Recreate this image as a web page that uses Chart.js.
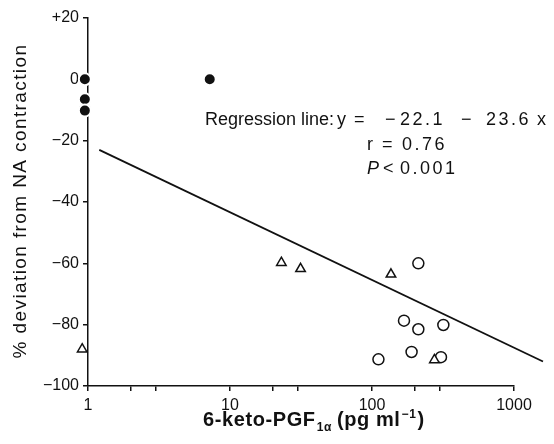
<!DOCTYPE html>
<html>
<head>
<meta charset="utf-8">
<script src="https://cdn.jsdelivr.net/npm/chart.js@4.4.1/dist/chart.umd.min.js"></script>
<style>
  html, body { margin: 0; padding: 0; background: #fff; }
  #wrap { width: 554px; height: 444px; }
</style>
</head>
<body>
<div id="wrap"><canvas id="chart" width="554" height="444"></canvas></div>
<script>
// filled circles (controls); listed unsorted so Chart.js draws all of them
const controlX = [7.2, 0.95, 0.95, 0.95];
const controlY = [0, 0, -6.5, -10.2];
// open circles
const circleX = [212, 168, 212, 318, 1750, 111, 190, 306, 1730];
const circleY = [-60, -78.7, -81.5, -80.1, -81.7, -91.3, -88.9, -90.6, -93.9];
// open triangles
const triangleX = [23, 0.91, 31.4, 136, 275];
const triangleY = [-59.8, -88, -61.8, -63.6, -91.5];
// regression line end points
const regressionX = [1.2, 1600];
const regressionY = [-23, -92];

const xTicks = [1, 2, 3, 10, 20, 30, 100, 200, 300, 1000];
const xTickLabels = ["1", "10", "100", "1000"];
const yTicks = [20, 0, -20, -40, -60, -80, -100];

const ink = "#111";
const fontFamily = "'Liberation Sans', Arial, Helvetica, sans-serif";

const zip = (xs, ys) => xs.map((x, i) => ({ x, y: ys[i] }));

const formatY = (v) => (v > 0 ? "+" + v : v < 0 ? "\u2212" + Math.abs(v) : "0");

// titles and the regression note are drawn by hand (sub/superscripts, italics)
const textPlugin = {
  id: "figureText",
  afterDraw(chart) {
    const ctx = chart.ctx;
    ctx.save();
    ctx.fillStyle = ink;

    // y title
    ctx.save();
    ctx.translate(21, 201);
    ctx.rotate(-Math.PI / 2);
    ctx.font = `19px ${fontFamily}`;
    ctx.letterSpacing = "1.4px";
    ctx.textAlign = "center";
    ctx.textBaseline = "middle";
    ctx.fillText("% deviation from NA contraction", 0, 0);
    ctx.restore();

    // x title with subscript / superscript
    ctx.textBaseline = "alphabetic";
    ctx.textAlign = "left";
    ctx.letterSpacing = "0.6px";
    const big = `bold 20px ${fontFamily}`;
    const small = `bold 12px ${fontFamily}`;
    let x = 203;
    const base = 426;
    const parts = [
      ["6-keto-PGF", big, 0, 1],
      ["1\u03b1", small, 5, 5],
      ["(pg ml", big, 0, 1],
      ["\u22121", small, -8, 1],
      [")", big, 0, 0],
    ];
    parts.forEach(([t, f, dy, gap]) => {
      ctx.font = f;
      ctx.fillText(t, x, base + dy);
      x += ctx.measureText(t).width + gap;
    });

    // regression note
    const note = `18px ${fontFamily}`;
    const noteItalic = `italic 18px ${fontFamily}`;
    const segments = [
      ["Regression line:", 205, 125, note, 0],
      ["y", 337, 125, note, 0],
      ["=", 354, 125, note, 0],
      ["\u2212", 385, 125, note, 0],
      ["22.1", 400, 125, note, 2.5],
      ["\u2212", 461, 125, note, 0],
      ["23.6", 486, 125, note, 2.5],
      ["x", 537, 125, note, 0],
      ["r", 367, 150, note, 0],
      ["=", 382, 150, note, 0],
      ["0.76", 402, 150, note, 2.5],
      ["P", 367, 174, noteItalic, 0],
      ["<", 383, 174, note, 0],
      ["0.001", 400, 174, note, 2.5],
    ];
    segments.forEach(([t, sx, sy, f, ls]) => {
      ctx.font = f;
      ctx.letterSpacing = ls + "px";
      ctx.fillText(t, sx, sy);
    });
    ctx.restore();
  },
};

new Chart(document.getElementById("chart"), {
  type: "scatter",
  data: {
    datasets: [
      {
        label: "control",
        data: zip(controlX, controlY),
        pointStyle: "circle",
        pointRadius: 6,
        pointBackgroundColor: ink,
        pointBorderColor: "#fff",
        pointBorderWidth: 2,
        clip: false,
      },
      {
        label: "triangles",
        data: zip(triangleX, triangleY),
        pointStyle: "triangle",
        pointRadius: 5.5,
        pointBackgroundColor: "#fff",
        pointBorderColor: ink,
        pointBorderWidth: 1.5,
        clip: false,
      },
      {
        label: "circles",
        data: zip(circleX, circleY),
        pointStyle: "circle",
        pointRadius: 5.5,
        pointBackgroundColor: "#fff",
        pointBorderColor: ink,
        pointBorderWidth: 1.5,
        clip: false,
      },
      {
        label: "regression",
        type: "line",
        data: zip(regressionX, regressionY),
        borderColor: ink,
        borderWidth: 1.8,
        pointRadius: 0,
        fill: false,
        clip: false,
      },
    ],
  },
  options: {
    responsive: false,
    animation: false,
    events: [],
    layout: { padding: { left: 0, right: 40, top: 18, bottom: 0 } },
    plugins: {
      legend: { display: false },
      tooltip: { enabled: false },
    },
    scales: {
      x: {
        type: "logarithmic",
        min: 1,
        max: 1000,
        afterBuildTicks: (s) => {
          s.ticks = xTicks.map((v) => ({ value: v }));
        },
        afterFit: (s) => {
          s.height = 58;
        },
        ticks: {
          autoSkip: false,
          maxRotation: 0,
          color: ink,
          padding: 5,
          font: { family: fontFamily, size: 16 },
          callback: (v) => (xTickLabels.includes(String(v)) ? String(v) : ""),
        },
        grid: { drawOnChartArea: false, drawTicks: true, tickLength: 5, color: ink, lineWidth: 1.5 },
        border: { display: true, color: ink, width: 1.5 },
      },
      y: {
        min: -100,
        max: 20,
        afterBuildTicks: (s) => {
          s.ticks = yTicks.map((v) => ({ value: v }));
        },
        afterFit: (s) => {
          s.width = 88;
        },
        ticks: {
          color: ink,
          padding: 4,
          font: { family: fontFamily, size: 16 },
          callback: (v) => formatY(v),
        },
        grid: { drawOnChartArea: false, drawTicks: true, tickLength: 5, color: ink, lineWidth: 1.5 },
        border: { display: true, color: ink, width: 1.5 },
      },
    },
  },
  plugins: [textPlugin],
});
</script>
</body>
</html>
